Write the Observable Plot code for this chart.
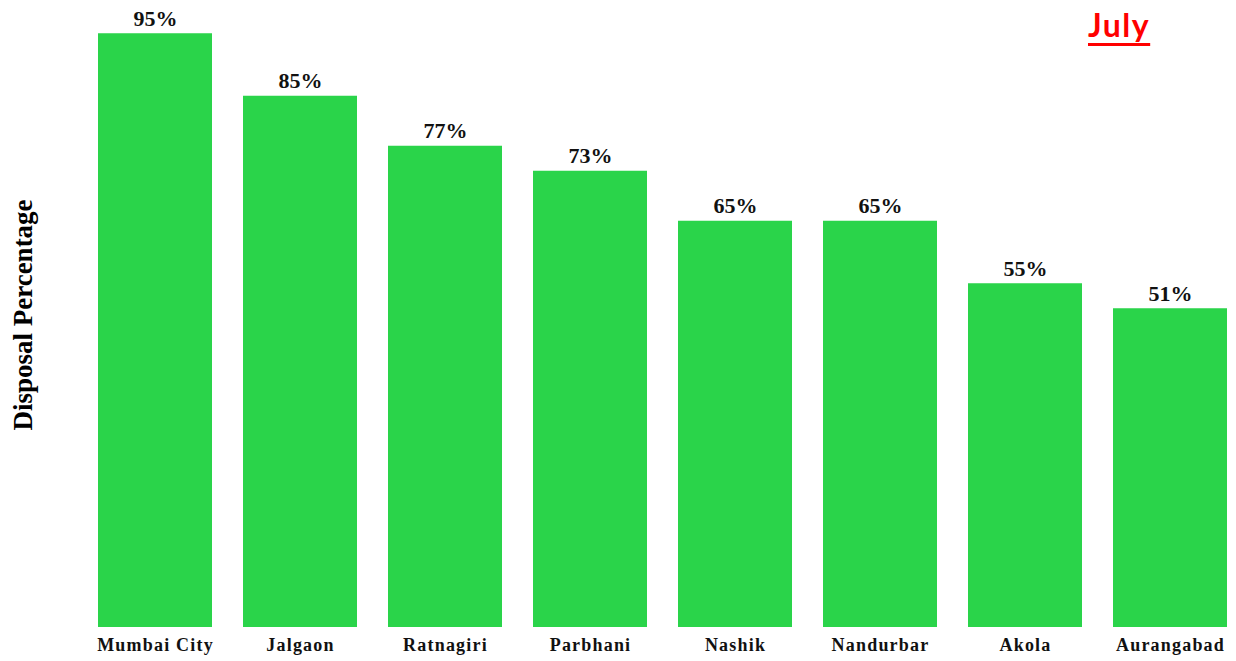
<!DOCTYPE html>
<html><head><meta charset="utf-8">
<script src="https://cdn.jsdelivr.net/npm/d3@7"></script>
<script src="https://cdn.jsdelivr.net/npm/@observablehq/plot@0.6"></script>
<style>
body{margin:0;background:#fff}
#wrap{position:relative;width:1236px;height:661px}
#month{position:absolute;left:1088px;top:5px;font:bold 32px Lato, "Liberation Sans", sans-serif;letter-spacing:1.5px;color:#ff0000;text-decoration:underline;text-decoration-thickness:3px;text-underline-offset:6px}
</style></head>
<body><div id="wrap"><div id="month">July</div></div>
<script>
const districts = ["Mumbai City","Jalgaon","Ratnagiri","Parbhani","Nashik","Nandurbar","Akola","Aurangabad"];
const disposal = [95,85,77,73,65,65,55,51];
const yLabel = "Disposal Percentage";

const data = districts.map((d,i)=>({district:d, value:disposal[i]}));

const chart = Plot.plot({
  width:1236, height:661,
  marginLeft:98, marginRight:9, marginTop:2, marginBottom:34,
  style:{fontFamily:"'Liberation Serif', 'Times New Roman', serif", background:"#fff"},
  x:{domain:districts, paddingInner:0.215, paddingOuter:0, label:null},
  y:{domain:[0,100], axis:null},
  marks:[
    Plot.barY(data,{x:"district", y:"value", fill:"#2ad44a"}),
    Plot.text(data,{x:"district", y:"value", text:d=>d.value+"%", lineAnchor:"bottom", dy:-8, fontSize:22, fontWeight:"bold", fill:"#111"}),
    Plot.axisX({tickSize:0, tickPadding:11, fontSize:18, fontWeight:"bold", label:null, fill:"#111"}),
    Plot.text([yLabel],{frameAnchor:"left", textAnchor:"middle", text:d=>d, rotate:-90, dx:-75, fontSize:27, fontWeight:"bold", fill:"#000"})
  ]
});
chart.querySelectorAll("g[aria-label='x-axis tick label'] text").forEach(t=>t.style.letterSpacing="1.2px");
document.getElementById("wrap").prepend(chart);
</script>
</body></html>
